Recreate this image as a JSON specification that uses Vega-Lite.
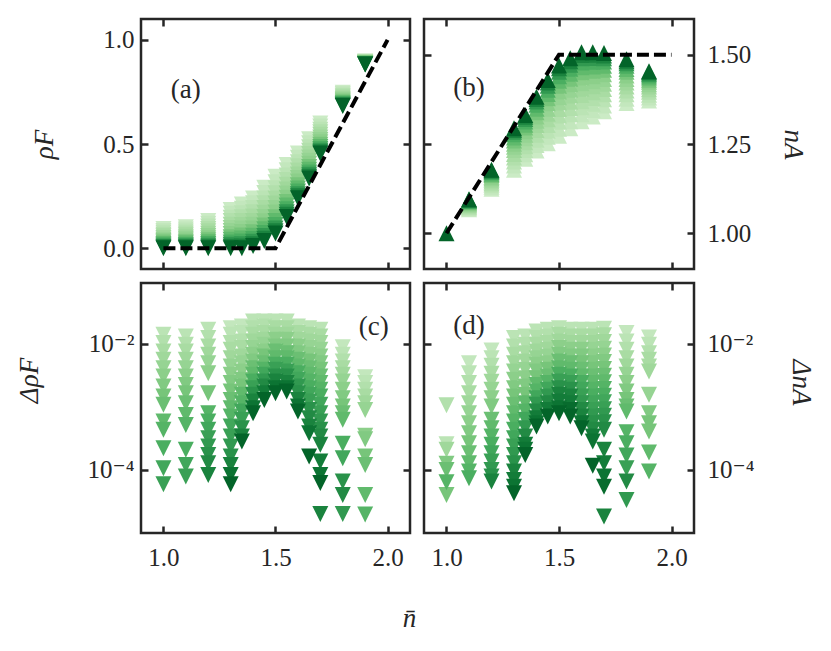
{
"$schema": "https://vega.github.io/schema/vega-lite/v6.json",
"background": "white",
"padding": {"left": 13, "top": 16, "right": 5, "bottom": 5},
"bounds": "flush",
"spacing": {"row": 14, "column": 14},
"columns": 2,
"config": {
  "font": "Liberation Serif, DejaVu Serif, serif",
  "view": {"stroke": "#262626", "strokeWidth": 2.5},
  "axis": {"grid": false, "domain": false, "ticks": true, "tickSize": -7, "tickWidth": 2.5, "tickColor": "#262626",
    "labelFont": "Liberation Serif, DejaVu Serif, serif", "labelFontSize": 25, "labelColor": "#262626", "labelPadding": 14, "labelFlush": false, "labelOverlap": false,
    "titleFont": "Liberation Serif, DejaVu Serif, serif", "titleFontSize": 27, "titleFontWeight": "normal", "titleFontStyle": "italic", "titleColor": "#262626"}
},
"datasets": {
"a": [
{"n":1,"v":0.092,"k":1},{"n":1,"v":0.083,"k":2},{"n":1,"v":0.074,"k":3},{"n":1,"v":0.065,"k":4},{"n":1,"v":0.057,"k":5},{"n":1,"v":0.049,"k":6},{"n":1,"v":0.041,"k":7},{"n":1,"v":0.034,"k":8},{"n":1,"v":0.027,"k":10},{"n":1,"v":0.02,"k":12},{"n":1,"v":0.014,"k":14},{"n":1,"v":0.008,"k":17},{"n":1,"v":0.004,"k":20},{"n":1,"v":0,"k":24},
{"n":1.1,"v":0.1,"k":1},{"n":1.1,"v":0.09,"k":2},{"n":1.1,"v":0.08,"k":3},{"n":1.1,"v":0.071,"k":4},{"n":1.1,"v":0.062,"k":5},{"n":1.1,"v":0.053,"k":6},{"n":1.1,"v":0.045,"k":7},{"n":1.1,"v":0.037,"k":8},{"n":1.1,"v":0.029,"k":10},{"n":1.1,"v":0.022,"k":12},{"n":1.1,"v":0.015,"k":14},{"n":1.1,"v":0.009,"k":17},{"n":1.1,"v":0.004,"k":20},{"n":1.1,"v":0,"k":24},
{"n":1.2,"v":0.13,"k":1},{"n":1.2,"v":0.117,"k":2},{"n":1.2,"v":0.104,"k":3},{"n":1.2,"v":0.092,"k":4},{"n":1.2,"v":0.081,"k":5},{"n":1.2,"v":0.069,"k":6},{"n":1.2,"v":0.059,"k":7},{"n":1.2,"v":0.048,"k":8},{"n":1.2,"v":0.038,"k":10},{"n":1.2,"v":0.029,"k":12},{"n":1.2,"v":0.02,"k":14},{"n":1.2,"v":0.012,"k":17},{"n":1.2,"v":0.005,"k":20},{"n":1.2,"v":0,"k":24},
{"n":1.3,"v":0.183,"k":1},{"n":1.3,"v":0.165,"k":2},{"n":1.3,"v":0.146,"k":3},{"n":1.3,"v":0.13,"k":4},{"n":1.3,"v":0.113,"k":5},{"n":1.3,"v":0.097,"k":6},{"n":1.3,"v":0.082,"k":7},{"n":1.3,"v":0.068,"k":8},{"n":1.3,"v":0.053,"k":10},{"n":1.3,"v":0.04,"k":12},{"n":1.3,"v":0.027,"k":14},{"n":1.3,"v":0.016,"k":17},{"n":1.3,"v":0.007,"k":20},{"n":1.3,"v":0,"k":24},
{"n":1.35,"v":0.21,"k":1},{"n":1.35,"v":0.189,"k":2},{"n":1.35,"v":0.168,"k":3},{"n":1.35,"v":0.149,"k":4},{"n":1.35,"v":0.13,"k":5},{"n":1.35,"v":0.111,"k":6},{"n":1.35,"v":0.095,"k":7},{"n":1.35,"v":0.078,"k":8},{"n":1.35,"v":0.061,"k":10},{"n":1.35,"v":0.046,"k":12},{"n":1.35,"v":0.032,"k":14},{"n":1.35,"v":0.019,"k":17},{"n":1.35,"v":0.008,"k":20},{"n":1.35,"v":0,"k":24},
{"n":1.4,"v":0.239,"k":1},{"n":1.4,"v":0.216,"k":2},{"n":1.4,"v":0.193,"k":3},{"n":1.4,"v":0.173,"k":4},{"n":1.4,"v":0.152,"k":5},{"n":1.4,"v":0.131,"k":6},{"n":1.4,"v":0.113,"k":7},{"n":1.4,"v":0.095,"k":8},{"n":1.4,"v":0.076,"k":10},{"n":1.4,"v":0.06,"k":12},{"n":1.4,"v":0.044,"k":14},{"n":1.4,"v":0.031,"k":17},{"n":1.4,"v":0.019,"k":20},{"n":1.4,"v":0.01,"k":24},
{"n":1.45,"v":0.29,"k":1},{"n":1.45,"v":0.265,"k":2},{"n":1.45,"v":0.239,"k":3},{"n":1.45,"v":0.216,"k":4},{"n":1.45,"v":0.193,"k":5},{"n":1.45,"v":0.17,"k":6},{"n":1.45,"v":0.15,"k":7},{"n":1.45,"v":0.129,"k":8},{"n":1.45,"v":0.109,"k":10},{"n":1.45,"v":0.091,"k":12},{"n":1.45,"v":0.073,"k":14},{"n":1.45,"v":0.058,"k":17},{"n":1.45,"v":0.045,"k":20},{"n":1.45,"v":0.035,"k":24},
{"n":1.5,"v":0.343,"k":1},{"n":1.5,"v":0.316,"k":2},{"n":1.5,"v":0.288,"k":3},{"n":1.5,"v":0.264,"k":4},{"n":1.5,"v":0.239,"k":5},{"n":1.5,"v":0.215,"k":6},{"n":1.5,"v":0.193,"k":7},{"n":1.5,"v":0.171,"k":8},{"n":1.5,"v":0.149,"k":10},{"n":1.5,"v":0.13,"k":12},{"n":1.5,"v":0.111,"k":14},{"n":1.5,"v":0.095,"k":17},{"n":1.5,"v":0.081,"k":20},{"n":1.5,"v":0.07,"k":24},
{"n":1.55,"v":0.399,"k":1},{"n":1.55,"v":0.374,"k":2},{"n":1.55,"v":0.349,"k":3},{"n":1.55,"v":0.327,"k":4},{"n":1.55,"v":0.304,"k":5},{"n":1.55,"v":0.282,"k":6},{"n":1.55,"v":0.262,"k":7},{"n":1.55,"v":0.242,"k":8},{"n":1.55,"v":0.222,"k":10},{"n":1.55,"v":0.205,"k":12},{"n":1.55,"v":0.187,"k":14},{"n":1.55,"v":0.172,"k":17},{"n":1.55,"v":0.16,"k":20},{"n":1.55,"v":0.15,"k":24},
{"n":1.6,"v":0.455,"k":1},{"n":1.6,"v":0.434,"k":2},{"n":1.6,"v":0.412,"k":3},{"n":1.6,"v":0.393,"k":4},{"n":1.6,"v":0.373,"k":5},{"n":1.6,"v":0.354,"k":6},{"n":1.6,"v":0.337,"k":7},{"n":1.6,"v":0.32,"k":8},{"n":1.6,"v":0.302,"k":10},{"n":1.6,"v":0.287,"k":12},{"n":1.6,"v":0.272,"k":14},{"n":1.6,"v":0.259,"k":17},{"n":1.6,"v":0.249,"k":20},{"n":1.6,"v":0.24,"k":24},
{"n":1.65,"v":0.523,"k":1},{"n":1.65,"v":0.504,"k":2},{"n":1.65,"v":0.485,"k":3},{"n":1.65,"v":0.468,"k":4},{"n":1.65,"v":0.452,"k":5},{"n":1.65,"v":0.435,"k":6},{"n":1.65,"v":0.42,"k":7},{"n":1.65,"v":0.405,"k":8},{"n":1.65,"v":0.39,"k":10},{"n":1.65,"v":0.376,"k":12},{"n":1.65,"v":0.363,"k":14},{"n":1.65,"v":0.352,"k":17},{"n":1.65,"v":0.343,"k":20},{"n":1.65,"v":0.335,"k":24},
{"n":1.7,"v":0.598,"k":1},{"n":1.7,"v":0.584,"k":2},{"n":1.7,"v":0.569,"k":3},{"n":1.7,"v":0.557,"k":4},{"n":1.7,"v":0.544,"k":5},{"n":1.7,"v":0.531,"k":6},{"n":1.7,"v":0.519,"k":7},{"n":1.7,"v":0.508,"k":8},{"n":1.7,"v":0.496,"k":10},{"n":1.7,"v":0.486,"k":12},{"n":1.7,"v":0.476,"k":14},{"n":1.7,"v":0.468,"k":17},{"n":1.7,"v":0.461,"k":20},{"n":1.7,"v":0.455,"k":24},
{"n":1.8,"v":0.746,"k":1},{"n":1.8,"v":0.74,"k":2},{"n":1.8,"v":0.733,"k":3},{"n":1.8,"v":0.728,"k":4},{"n":1.8,"v":0.722,"k":5},{"n":1.8,"v":0.716,"k":6},{"n":1.8,"v":0.711,"k":7},{"n":1.8,"v":0.706,"k":8},{"n":1.8,"v":0.701,"k":10},{"n":1.8,"v":0.697,"k":12},{"n":1.8,"v":0.692,"k":14},{"n":1.8,"v":0.689,"k":17},{"n":1.8,"v":0.686,"k":20},{"n":1.8,"v":0.683,"k":24},
{"n":1.9,"v":0.896,"k":1},{"n":1.9,"v":0.895,"k":2},{"n":1.9,"v":0.893,"k":3},{"n":1.9,"v":0.892,"k":4},{"n":1.9,"v":0.891,"k":5},{"n":1.9,"v":0.889,"k":6},{"n":1.9,"v":0.888,"k":7},{"n":1.9,"v":0.887,"k":8},{"n":1.9,"v":0.886,"k":10},{"n":1.9,"v":0.885,"k":12},{"n":1.9,"v":0.884,"k":14},{"n":1.9,"v":0.883,"k":17},{"n":1.9,"v":0.883,"k":20},{"n":1.9,"v":0.882,"k":24}
],
"b": [
{"n":1,"v":1.0,"k":24},
{"n":1.1,"v":1.067,"k":1},{"n":1.1,"v":1.07,"k":2},{"n":1.1,"v":1.073,"k":3},{"n":1.1,"v":1.075,"k":4},{"n":1.1,"v":1.078,"k":5},{"n":1.1,"v":1.08,"k":6},{"n":1.1,"v":1.082,"k":7},{"n":1.1,"v":1.085,"k":8},{"n":1.1,"v":1.087,"k":10},{"n":1.1,"v":1.089,"k":12},{"n":1.1,"v":1.091,"k":14},{"n":1.1,"v":1.092,"k":17},{"n":1.1,"v":1.094,"k":20},{"n":1.1,"v":1.095,"k":24},
{"n":1.2,"v":1.125,"k":1},{"n":1.2,"v":1.13,"k":2},{"n":1.2,"v":1.136,"k":3},{"n":1.2,"v":1.14,"k":4},{"n":1.2,"v":1.145,"k":5},{"n":1.2,"v":1.15,"k":6},{"n":1.2,"v":1.154,"k":7},{"n":1.2,"v":1.158,"k":8},{"n":1.2,"v":1.163,"k":10},{"n":1.2,"v":1.166,"k":12},{"n":1.2,"v":1.17,"k":14},{"n":1.2,"v":1.173,"k":17},{"n":1.2,"v":1.176,"k":20},{"n":1.2,"v":1.178,"k":24},
{"n":1.3,"v":1.178,"k":1},{"n":1.3,"v":1.19,"k":2},{"n":1.3,"v":1.201,"k":3},{"n":1.3,"v":1.212,"k":4},{"n":1.3,"v":1.222,"k":5},{"n":1.3,"v":1.233,"k":6},{"n":1.3,"v":1.242,"k":7},{"n":1.3,"v":1.251,"k":8},{"n":1.3,"v":1.26,"k":10},{"n":1.3,"v":1.268,"k":12},{"n":1.3,"v":1.277,"k":14},{"n":1.3,"v":1.284,"k":17},{"n":1.3,"v":1.289,"k":20},{"n":1.3,"v":1.294,"k":24},
{"n":1.35,"v":1.209,"k":1},{"n":1.35,"v":1.221,"k":2},{"n":1.35,"v":1.233,"k":3},{"n":1.35,"v":1.244,"k":4},{"n":1.35,"v":1.255,"k":5},{"n":1.35,"v":1.266,"k":6},{"n":1.35,"v":1.276,"k":7},{"n":1.35,"v":1.286,"k":8},{"n":1.35,"v":1.296,"k":10},{"n":1.35,"v":1.304,"k":12},{"n":1.35,"v":1.313,"k":14},{"n":1.35,"v":1.32,"k":17},{"n":1.35,"v":1.326,"k":20},{"n":1.35,"v":1.331,"k":24},
{"n":1.4,"v":1.232,"k":1},{"n":1.4,"v":1.247,"k":2},{"n":1.4,"v":1.262,"k":3},{"n":1.4,"v":1.276,"k":4},{"n":1.4,"v":1.289,"k":5},{"n":1.4,"v":1.303,"k":6},{"n":1.4,"v":1.315,"k":7},{"n":1.4,"v":1.327,"k":8},{"n":1.4,"v":1.339,"k":10},{"n":1.4,"v":1.349,"k":12},{"n":1.4,"v":1.36,"k":14},{"n":1.4,"v":1.369,"k":17},{"n":1.4,"v":1.376,"k":20},{"n":1.4,"v":1.382,"k":24},
{"n":1.45,"v":1.252,"k":1},{"n":1.45,"v":1.27,"k":2},{"n":1.45,"v":1.287,"k":3},{"n":1.45,"v":1.303,"k":4},{"n":1.45,"v":1.319,"k":5},{"n":1.45,"v":1.335,"k":6},{"n":1.45,"v":1.349,"k":7},{"n":1.45,"v":1.364,"k":8},{"n":1.45,"v":1.378,"k":10},{"n":1.45,"v":1.39,"k":12},{"n":1.45,"v":1.402,"k":14},{"n":1.45,"v":1.413,"k":17},{"n":1.45,"v":1.422,"k":20},{"n":1.45,"v":1.429,"k":24},
{"n":1.5,"v":1.273,"k":1},{"n":1.5,"v":1.293,"k":2},{"n":1.5,"v":1.312,"k":3},{"n":1.5,"v":1.33,"k":4},{"n":1.5,"v":1.348,"k":5},{"n":1.5,"v":1.366,"k":6},{"n":1.5,"v":1.381,"k":7},{"n":1.5,"v":1.397,"k":8},{"n":1.5,"v":1.413,"k":10},{"n":1.5,"v":1.427,"k":12},{"n":1.5,"v":1.44,"k":14},{"n":1.5,"v":1.452,"k":17},{"n":1.5,"v":1.462,"k":20},{"n":1.5,"v":1.47,"k":24},
{"n":1.55,"v":1.294,"k":1},{"n":1.55,"v":1.314,"k":2},{"n":1.55,"v":1.333,"k":3},{"n":1.55,"v":1.351,"k":4},{"n":1.55,"v":1.368,"k":5},{"n":1.55,"v":1.386,"k":6},{"n":1.55,"v":1.402,"k":7},{"n":1.55,"v":1.417,"k":8},{"n":1.55,"v":1.433,"k":10},{"n":1.55,"v":1.447,"k":12},{"n":1.55,"v":1.461,"k":14},{"n":1.55,"v":1.472,"k":17},{"n":1.55,"v":1.482,"k":20},{"n":1.55,"v":1.49,"k":24},
{"n":1.6,"v":1.314,"k":1},{"n":1.6,"v":1.333,"k":2},{"n":1.6,"v":1.353,"k":3},{"n":1.6,"v":1.37,"k":4},{"n":1.6,"v":1.387,"k":5},{"n":1.6,"v":1.405,"k":6},{"n":1.6,"v":1.42,"k":7},{"n":1.6,"v":1.436,"k":8},{"n":1.6,"v":1.451,"k":10},{"n":1.6,"v":1.465,"k":12},{"n":1.6,"v":1.478,"k":14},{"n":1.6,"v":1.49,"k":17},{"n":1.6,"v":1.499,"k":20},{"n":1.6,"v":1.507,"k":24},
{"n":1.65,"v":1.327,"k":1},{"n":1.65,"v":1.345,"k":2},{"n":1.65,"v":1.363,"k":3},{"n":1.65,"v":1.379,"k":4},{"n":1.65,"v":1.395,"k":5},{"n":1.65,"v":1.412,"k":6},{"n":1.65,"v":1.426,"k":7},{"n":1.65,"v":1.44,"k":8},{"n":1.65,"v":1.455,"k":10},{"n":1.65,"v":1.467,"k":12},{"n":1.65,"v":1.48,"k":14},{"n":1.65,"v":1.491,"k":17},{"n":1.65,"v":1.5,"k":20},{"n":1.65,"v":1.507,"k":24},
{"n":1.7,"v":1.342,"k":1},{"n":1.7,"v":1.358,"k":2},{"n":1.7,"v":1.375,"k":3},{"n":1.7,"v":1.389,"k":4},{"n":1.7,"v":1.404,"k":5},{"n":1.7,"v":1.419,"k":6},{"n":1.7,"v":1.432,"k":7},{"n":1.7,"v":1.445,"k":8},{"n":1.7,"v":1.458,"k":10},{"n":1.7,"v":1.469,"k":12},{"n":1.7,"v":1.481,"k":14},{"n":1.7,"v":1.49,"k":17},{"n":1.7,"v":1.498,"k":20},{"n":1.7,"v":1.505,"k":24},
{"n":1.8,"v":1.365,"k":1},{"n":1.8,"v":1.377,"k":2},{"n":1.8,"v":1.389,"k":3},{"n":1.8,"v":1.4,"k":4},{"n":1.8,"v":1.411,"k":5},{"n":1.8,"v":1.422,"k":6},{"n":1.8,"v":1.432,"k":7},{"n":1.8,"v":1.442,"k":8},{"n":1.8,"v":1.452,"k":10},{"n":1.8,"v":1.46,"k":12},{"n":1.8,"v":1.469,"k":14},{"n":1.8,"v":1.476,"k":17},{"n":1.8,"v":1.482,"k":20},{"n":1.8,"v":1.487,"k":24},
{"n":1.9,"v":1.372,"k":1},{"n":1.9,"v":1.38,"k":2},{"n":1.9,"v":1.388,"k":3},{"n":1.9,"v":1.396,"k":4},{"n":1.9,"v":1.403,"k":5},{"n":1.9,"v":1.411,"k":6},{"n":1.9,"v":1.417,"k":7},{"n":1.9,"v":1.424,"k":8},{"n":1.9,"v":1.43,"k":10},{"n":1.9,"v":1.436,"k":12},{"n":1.9,"v":1.442,"k":14},{"n":1.9,"v":1.447,"k":17},{"n":1.9,"v":1.451,"k":20},{"n":1.9,"v":1.454,"k":24}
],
"c": [
{"n":1,"v":0.0139,"k":3},{"n":1,"v":0.0103,"k":4},{"n":1,"v":0.00755,"k":5},{"n":1,"v":0.00557,"k":6},{"n":1,"v":0.00411,"k":7},{"n":1,"v":0.00303,"k":8},{"n":1,"v":0.0021,"k":9},{"n":1,"v":0.00146,"k":10},{"n":1,"v":0.00108,"k":11},{"n":1,"v":0.000585,"k":12},{"n":1,"v":0.000432,"k":13},{"n":1,"v":0.000221,"k":14},{"n":1,"v":0.000106,"k":15},{"n":1,"v":0.0000592,"k":16},
{"n":1.1,"v":0.0131,"k":3},{"n":1.1,"v":0.00964,"k":4},{"n":1.1,"v":0.00755,"k":5},{"n":1.1,"v":0.00557,"k":6},{"n":1.1,"v":0.00411,"k":7},{"n":1.1,"v":0.00303,"k":8},{"n":1.1,"v":0.00223,"k":9},{"n":1.1,"v":0.00165,"k":10},{"n":1.1,"v":0.00114,"k":11},{"n":1.1,"v":0.000746,"k":12},{"n":1.1,"v":0.000518,"k":13},{"n":1.1,"v":0.000208,"k":14},{"n":1.1,"v":0.00012,"k":15},{"n":1.1,"v":0.0000784,"k":16},
{"n":1.2,"v":0.0167,"k":3},{"n":1.2,"v":0.0123,"k":4},{"n":1.2,"v":0.00908,"k":5},{"n":1.2,"v":0.00668,"k":6},{"n":1.2,"v":0.00493,"k":7},{"n":1.2,"v":0.00342,"k":8},{"n":1.2,"v":0.00165,"k":10},{"n":1.2,"v":0.000793,"k":13},{"n":1.2,"v":0.000585,"k":14},{"n":1.2,"v":0.000432,"k":15},{"n":1.2,"v":0.000318,"k":16},{"n":1.2,"v":0.000235,"k":17},{"n":1.2,"v":0.000173,"k":18},{"n":1.2,"v":0.000128,"k":19},{"n":1.2,"v":0.0000834,"k":20},
{"n":1.3,"v":0.0177,"k":2},{"n":1.3,"v":0.0139,"k":3},{"n":1.3,"v":0.0103,"k":4},{"n":1.3,"v":0.00803,"k":5},{"n":1.3,"v":0.00592,"k":6},{"n":1.3,"v":0.00437,"k":7},{"n":1.3,"v":0.00322,"k":8},{"n":1.3,"v":0.00238,"k":9},{"n":1.3,"v":0.00175,"k":10},{"n":1.3,"v":0.00129,"k":11},{"n":1.3,"v":0.000952,"k":12},{"n":1.3,"v":0.000703,"k":13},{"n":1.3,"v":0.000488,"k":15},{"n":1.3,"v":0.000338,"k":16},{"n":1.3,"v":0.000235,"k":17},{"n":1.3,"v":0.000163,"k":18},{"n":1.3,"v":0.00012,"k":20},{"n":1.3,"v":0.0000834,"k":22},{"n":1.3,"v":0.0000592,"k":24},
{"n":1.35,"v":0.0188,"k":2},{"n":1.35,"v":0.0148,"k":3},{"n":1.35,"v":0.0109,"k":4},{"n":1.35,"v":0.00854,"k":5},{"n":1.35,"v":0.00629,"k":6},{"n":1.35,"v":0.00493,"k":7},{"n":1.35,"v":0.00364,"k":8},{"n":1.35,"v":0.00268,"k":9},{"n":1.35,"v":0.0021,"k":10},{"n":1.35,"v":0.00155,"k":12},{"n":1.35,"v":0.00114,"k":13},{"n":1.35,"v":0.000843,"k":15},{"n":1.35,"v":0.000622,"k":16},{"n":1.35,"v":0.000459,"k":18},{"n":1.35,"v":0.000338,"k":20},{"n":1.35,"v":0.000282,"k":24},
{"n":1.4,"v":0.0226,"k":3},{"n":1.4,"v":0.0177,"k":4},{"n":1.4,"v":0.0139,"k":5},{"n":1.4,"v":0.0109,"k":6},{"n":1.4,"v":0.00854,"k":7},{"n":1.4,"v":0.00668,"k":8},{"n":1.4,"v":0.00525,"k":9},{"n":1.4,"v":0.00411,"k":11},{"n":1.4,"v":0.00322,"k":12},{"n":1.4,"v":0.00252,"k":14},{"n":1.4,"v":0.00198,"k":16},{"n":1.4,"v":0.00155,"k":18},{"n":1.4,"v":0.00122,"k":20},{"n":1.4,"v":0.000952,"k":22},{"n":1.4,"v":0.000793,"k":24},
{"n":1.45,"v":0.0226,"k":3},{"n":1.45,"v":0.0188,"k":4},{"n":1.45,"v":0.0148,"k":5},{"n":1.45,"v":0.0116,"k":6},{"n":1.45,"v":0.00964,"k":7},{"n":1.45,"v":0.00755,"k":8},{"n":1.45,"v":0.00629,"k":10},{"n":1.45,"v":0.00493,"k":11},{"n":1.45,"v":0.00387,"k":13},{"n":1.45,"v":0.00322,"k":15},{"n":1.45,"v":0.00252,"k":17},{"n":1.45,"v":0.0021,"k":19},{"n":1.45,"v":0.00165,"k":21},{"n":1.45,"v":0.00129,"k":24},
{"n":1.5,"v":0.0226,"k":3},{"n":1.5,"v":0.0177,"k":5},{"n":1.5,"v":0.0139,"k":6},{"n":1.5,"v":0.0116,"k":8},{"n":1.5,"v":0.00908,"k":9},{"n":1.5,"v":0.00755,"k":11},{"n":1.5,"v":0.00592,"k":12},{"n":1.5,"v":0.00464,"k":14},{"n":1.5,"v":0.00387,"k":16},{"n":1.5,"v":0.00303,"k":18},{"n":1.5,"v":0.00252,"k":20},{"n":1.5,"v":0.00198,"k":22},{"n":1.5,"v":0.00165,"k":24},
{"n":1.55,"v":0.0226,"k":3},{"n":1.55,"v":0.0177,"k":5},{"n":1.55,"v":0.0139,"k":6},{"n":1.55,"v":0.0116,"k":8},{"n":1.55,"v":0.00908,"k":9},{"n":1.55,"v":0.00711,"k":11},{"n":1.55,"v":0.00592,"k":12},{"n":1.55,"v":0.00464,"k":14},{"n":1.55,"v":0.00364,"k":16},{"n":1.55,"v":0.00303,"k":18},{"n":1.55,"v":0.00238,"k":20},{"n":1.55,"v":0.00198,"k":22},{"n":1.55,"v":0.00175,"k":24},
{"n":1.6,"v":0.0188,"k":3},{"n":1.6,"v":0.0148,"k":5},{"n":1.6,"v":0.0116,"k":6},{"n":1.6,"v":0.00908,"k":8},{"n":1.6,"v":0.00711,"k":9},{"n":1.6,"v":0.00557,"k":11},{"n":1.6,"v":0.00437,"k":12},{"n":1.6,"v":0.00342,"k":14},{"n":1.6,"v":0.00268,"k":15},{"n":1.6,"v":0.0021,"k":17},{"n":1.6,"v":0.00165,"k":18},{"n":1.6,"v":0.00129,"k":20},{"n":1.6,"v":0.00101,"k":22},{"n":1.6,"v":0.000843,"k":24},
{"n":1.65,"v":0.0177,"k":3},{"n":1.65,"v":0.0139,"k":5},{"n":1.65,"v":0.0109,"k":6},{"n":1.65,"v":0.00854,"k":7},{"n":1.65,"v":0.00668,"k":8},{"n":1.65,"v":0.00525,"k":10},{"n":1.65,"v":0.00411,"k":11},{"n":1.65,"v":0.00322,"k":12},{"n":1.65,"v":0.00252,"k":13},{"n":1.65,"v":0.00198,"k":14},{"n":1.65,"v":0.00155,"k":15},{"n":1.65,"v":0.00122,"k":16},{"n":1.65,"v":0.000895,"k":18},{"n":1.65,"v":0.000661,"k":19},{"n":1.65,"v":0.000488,"k":20},{"n":1.65,"v":0.000382,"k":22},{"n":1.65,"v":0.000163,"k":24},
{"n":1.7,"v":0.0167,"k":3},{"n":1.7,"v":0.0131,"k":5},{"n":1.7,"v":0.0103,"k":6},{"n":1.7,"v":0.00803,"k":7},{"n":1.7,"v":0.00629,"k":8},{"n":1.7,"v":0.00493,"k":9},{"n":1.7,"v":0.00387,"k":10},{"n":1.7,"v":0.00303,"k":11},{"n":1.7,"v":0.00238,"k":12},{"n":1.7,"v":0.00186,"k":13},{"n":1.7,"v":0.00146,"k":14},{"n":1.7,"v":0.00108,"k":15},{"n":1.7,"v":0.000793,"k":16},{"n":1.7,"v":0.000585,"k":17},{"n":1.7,"v":0.000432,"k":18},{"n":1.7,"v":0.000338,"k":19},{"n":1.7,"v":0.00025,"k":20},{"n":1.7,"v":0.000136,"k":21},{"n":1.7,"v":0.0000834,"k":22},{"n":1.7,"v":0.000062,"k":24},{"n":1.7,"v":0.00002,"k":20},
{"n":1.8,"v":0.0088,"k":2},{"n":1.8,"v":0.00668,"k":3},{"n":1.8,"v":0.00525,"k":4},{"n":1.8,"v":0.00411,"k":5},{"n":1.8,"v":0.00322,"k":6},{"n":1.8,"v":0.00252,"k":7},{"n":1.8,"v":0.00186,"k":8},{"n":1.8,"v":0.00137,"k":9},{"n":1.8,"v":0.00101,"k":10},{"n":1.8,"v":0.000793,"k":11},{"n":1.8,"v":0.000622,"k":12},{"n":1.8,"v":0.000259,"k":14},{"n":1.8,"v":0.000153,"k":15},{"n":1.8,"v":0.0000653,"k":18},{"n":1.8,"v":0.0000401,"k":19},{"n":1.8,"v":0.00002,"k":17},
{"n":1.9,"v":0.00296,"k":2},{"n":1.9,"v":0.00238,"k":3},{"n":1.9,"v":0.00186,"k":4},{"n":1.9,"v":0.00146,"k":5},{"n":1.9,"v":0.00114,"k":6},{"n":1.9,"v":0.000895,"k":7},{"n":1.9,"v":0.000347,"k":8},{"n":1.9,"v":0.000307,"k":9},{"n":1.9,"v":0.000163,"k":10},{"n":1.9,"v":0.00012,"k":11},{"n":1.9,"v":0.0000401,"k":12},{"n":1.9,"v":0.0000197,"k":13}
],
"d": [
{"n":1,"v":0.00106,"k":4},{"n":1,"v":0.000256,"k":3},{"n":1,"v":0.000208,"k":6},{"n":1,"v":0.000125,"k":9},{"n":1,"v":0.0001,"k":11},{"n":1,"v":0.0000635,"k":13},{"n":1,"v":0.0000401,"k":10},
{"n":1.1,"v":0.00493,"k":2},{"n":1.1,"v":0.00342,"k":3},{"n":1.1,"v":0.00238,"k":4},{"n":1.1,"v":0.00165,"k":5},{"n":1.1,"v":0.00114,"k":6},{"n":1.1,"v":0.000793,"k":7},{"n":1.1,"v":0.000551,"k":8},{"n":1.1,"v":0.000382,"k":9},{"n":1.1,"v":0.000265,"k":10},{"n":1.1,"v":0.000184,"k":11},{"n":1.1,"v":0.000128,"k":12},{"n":1.1,"v":0.0000941,"k":13},{"n":1.1,"v":0.0000738,"k":14},
{"n":1.2,"v":0.00784,"k":2},{"n":1.2,"v":0.00592,"k":3},{"n":1.2,"v":0.00448,"k":4},{"n":1.2,"v":0.00334,"k":5},{"n":1.2,"v":0.00249,"k":6},{"n":1.2,"v":0.00186,"k":7},{"n":1.2,"v":0.00137,"k":8},{"n":1.2,"v":0.00101,"k":9},{"n":1.2,"v":0.000622,"k":11},{"n":1.2,"v":0.000459,"k":12},{"n":1.2,"v":0.000338,"k":13},{"n":1.2,"v":0.00025,"k":14},{"n":1.2,"v":0.000184,"k":15},{"n":1.2,"v":0.000136,"k":16},{"n":1.2,"v":0.0001,"k":17},{"n":1.2,"v":0.0000784,"k":18},{"n":1.2,"v":0.0000653,"k":20},
{"n":1.3,"v":0.0123,"k":3},{"n":1.3,"v":0.00908,"k":4},{"n":1.3,"v":0.00668,"k":5},{"n":1.3,"v":0.00493,"k":6},{"n":1.3,"v":0.00364,"k":7},{"n":1.3,"v":0.00268,"k":8},{"n":1.3,"v":0.00198,"k":9},{"n":1.3,"v":0.00146,"k":10},{"n":1.3,"v":0.00108,"k":11},{"n":1.3,"v":0.000793,"k":12},{"n":1.3,"v":0.000585,"k":13},{"n":1.3,"v":0.000432,"k":14},{"n":1.3,"v":0.000318,"k":15},{"n":1.3,"v":0.000235,"k":16},{"n":1.3,"v":0.000173,"k":17},{"n":1.3,"v":0.000128,"k":18},{"n":1.3,"v":0.0000941,"k":20},{"n":1.3,"v":0.0000694,"k":21},{"n":1.3,"v":0.0000543,"k":22},{"n":1.3,"v":0.0000427,"k":24},
{"n":1.35,"v":0.0131,"k":3},{"n":1.35,"v":0.00964,"k":4},{"n":1.35,"v":0.00711,"k":5},{"n":1.35,"v":0.00525,"k":6},{"n":1.35,"v":0.00387,"k":7},{"n":1.35,"v":0.00285,"k":8},{"n":1.35,"v":0.0021,"k":9},{"n":1.35,"v":0.00155,"k":10},{"n":1.35,"v":0.00114,"k":12},{"n":1.35,"v":0.000843,"k":13},{"n":1.35,"v":0.000622,"k":15},{"n":1.35,"v":0.000459,"k":17},{"n":1.35,"v":0.000338,"k":19},{"n":1.35,"v":0.00025,"k":21},{"n":1.35,"v":0.000208,"k":22},{"n":1.35,"v":0.000173,"k":24},
{"n":1.4,"v":0.0157,"k":3},{"n":1.4,"v":0.0123,"k":4},{"n":1.4,"v":0.00964,"k":5},{"n":1.4,"v":0.00755,"k":6},{"n":1.4,"v":0.00592,"k":7},{"n":1.4,"v":0.00464,"k":8},{"n":1.4,"v":0.00364,"k":9},{"n":1.4,"v":0.00285,"k":10},{"n":1.4,"v":0.00223,"k":12},{"n":1.4,"v":0.00175,"k":13},{"n":1.4,"v":0.00137,"k":15},{"n":1.4,"v":0.00108,"k":17},{"n":1.4,"v":0.000843,"k":19},{"n":1.4,"v":0.000661,"k":21},{"n":1.4,"v":0.000551,"k":22},{"n":1.4,"v":0.000488,"k":24},
{"n":1.45,"v":0.0167,"k":3},{"n":1.45,"v":0.0131,"k":4},{"n":1.45,"v":0.0103,"k":5},{"n":1.45,"v":0.00803,"k":6},{"n":1.45,"v":0.00629,"k":7},{"n":1.45,"v":0.00493,"k":8},{"n":1.45,"v":0.00387,"k":10},{"n":1.45,"v":0.00303,"k":11},{"n":1.45,"v":0.00238,"k":13},{"n":1.45,"v":0.00186,"k":15},{"n":1.45,"v":0.00146,"k":17},{"n":1.45,"v":0.00114,"k":19},{"n":1.45,"v":0.000895,"k":21},{"n":1.45,"v":0.000703,"k":24},
{"n":1.5,"v":0.0177,"k":3},{"n":1.5,"v":0.0139,"k":5},{"n":1.5,"v":0.0109,"k":6},{"n":1.5,"v":0.00854,"k":8},{"n":1.5,"v":0.00668,"k":9},{"n":1.5,"v":0.00525,"k":11},{"n":1.5,"v":0.00411,"k":12},{"n":1.5,"v":0.00322,"k":14},{"n":1.5,"v":0.00252,"k":16},{"n":1.5,"v":0.00198,"k":18},{"n":1.5,"v":0.00155,"k":20},{"n":1.5,"v":0.00122,"k":21},{"n":1.5,"v":0.000952,"k":22},{"n":1.5,"v":0.000793,"k":24},
{"n":1.55,"v":0.0167,"k":3},{"n":1.55,"v":0.0131,"k":5},{"n":1.55,"v":0.0103,"k":6},{"n":1.55,"v":0.00803,"k":8},{"n":1.55,"v":0.00629,"k":9},{"n":1.55,"v":0.00493,"k":11},{"n":1.55,"v":0.00387,"k":12},{"n":1.55,"v":0.00303,"k":14},{"n":1.55,"v":0.00238,"k":16},{"n":1.55,"v":0.00186,"k":18},{"n":1.55,"v":0.00146,"k":20},{"n":1.55,"v":0.00114,"k":21},{"n":1.55,"v":0.000895,"k":23},{"n":1.55,"v":0.000703,"k":24},
{"n":1.6,"v":0.0167,"k":3},{"n":1.6,"v":0.0131,"k":5},{"n":1.6,"v":0.0103,"k":6},{"n":1.6,"v":0.00803,"k":8},{"n":1.6,"v":0.00629,"k":9},{"n":1.6,"v":0.00493,"k":10},{"n":1.6,"v":0.00387,"k":11},{"n":1.6,"v":0.00303,"k":12},{"n":1.6,"v":0.00238,"k":14},{"n":1.6,"v":0.00186,"k":15},{"n":1.6,"v":0.00146,"k":16},{"n":1.6,"v":0.00114,"k":17},{"n":1.6,"v":0.000895,"k":19},{"n":1.6,"v":0.000703,"k":20},{"n":1.6,"v":0.000551,"k":22},{"n":1.6,"v":0.000459,"k":24},
{"n":1.65,"v":0.0167,"k":3},{"n":1.65,"v":0.0131,"k":5},{"n":1.65,"v":0.0103,"k":6},{"n":1.65,"v":0.00803,"k":7},{"n":1.65,"v":0.00629,"k":8},{"n":1.65,"v":0.00493,"k":9},{"n":1.65,"v":0.00387,"k":10},{"n":1.65,"v":0.00303,"k":11},{"n":1.65,"v":0.00238,"k":12},{"n":1.65,"v":0.00186,"k":13},{"n":1.65,"v":0.00146,"k":14},{"n":1.65,"v":0.00114,"k":15},{"n":1.65,"v":0.000895,"k":16},{"n":1.65,"v":0.000703,"k":17},{"n":1.65,"v":0.000551,"k":18},{"n":1.65,"v":0.000432,"k":19},{"n":1.65,"v":0.000338,"k":21},{"n":1.65,"v":0.000282,"k":22},{"n":1.65,"v":0.000117,"k":24},
{"n":1.7,"v":0.0173,"k":3},{"n":1.7,"v":0.0136,"k":5},{"n":1.7,"v":0.0107,"k":6},{"n":1.7,"v":0.00835,"k":7},{"n":1.7,"v":0.00652,"k":8},{"n":1.7,"v":0.00512,"k":9},{"n":1.7,"v":0.004,"k":10},{"n":1.7,"v":0.00312,"k":11},{"n":1.7,"v":0.00245,"k":12},{"n":1.7,"v":0.00192,"k":13},{"n":1.7,"v":0.0015,"k":14},{"n":1.7,"v":0.00118,"k":15},{"n":1.7,"v":0.00092,"k":16},{"n":1.7,"v":0.00072,"k":17},{"n":1.7,"v":0.00057,"k":18},{"n":1.7,"v":0.000432,"k":19},{"n":1.7,"v":0.000208,"k":20},{"n":1.7,"v":0.000128,"k":21},{"n":1.7,"v":0.0000784,"k":22},{"n":1.7,"v":0.0000543,"k":23},{"n":1.7,"v":0.0000182,"k":20},
{"n":1.8,"v":0.0148,"k":2},{"n":1.8,"v":0.0109,"k":3},{"n":1.8,"v":0.00803,"k":4},{"n":1.8,"v":0.00592,"k":5},{"n":1.8,"v":0.00437,"k":6},{"n":1.8,"v":0.00322,"k":7},{"n":1.8,"v":0.00238,"k":8},{"n":1.8,"v":0.00175,"k":9},{"n":1.8,"v":0.00129,"k":10},{"n":1.8,"v":0.00101,"k":11},{"n":1.8,"v":0.000843,"k":12},{"n":1.8,"v":0.000395,"k":13},{"n":1.8,"v":0.000265,"k":14},{"n":1.8,"v":0.000169,"k":15},{"n":1.8,"v":0.000106,"k":16},{"n":1.8,"v":0.0000653,"k":19},{"n":1.8,"v":0.0000334,"k":17},
{"n":1.9,"v":0.0126,"k":2},{"n":1.9,"v":0.00964,"k":3},{"n":1.9,"v":0.00711,"k":4},{"n":1.9,"v":0.00557,"k":5},{"n":1.9,"v":0.00437,"k":5},{"n":1.9,"v":0.00364,"k":6},{"n":1.9,"v":0.00155,"k":7},{"n":1.9,"v":0.000793,"k":9},{"n":1.9,"v":0.000551,"k":10},{"n":1.9,"v":0.000406,"k":10},{"n":1.9,"v":0.000189,"k":12},{"n":1.9,"v":0.0000941,"k":13}
]
},
"concat": [
{
 "width": 269, "height": 250,
 "layer": [
  {"data": {"name": "a"},
   "mark": {"type": "point", "shape": "M-1,-1L1,-1L0,1Z", "filled": true, "size": 256, "opacity": 1, "strokeWidth": 0},
   "encoding": {
     "x": {"field": "n", "type": "quantitative", "scale": {"domain": [0.9, 2.1], "nice": false, "zero": false}, "axis": {"orient": "bottom", "values": [1, 1.5, 2], "labels": false, "title": null}},
     "y": {"field": "v", "type": "quantitative", "scale": {"domain": [-0.1, 1.1], "nice": false, "zero": false}, "axis": {"orient": "left", "values": [0, 0.5, 1], "format": ".1f", "title": "ρF", "titleX": -97, "titleY": 125, "titleAngle": -90, "titleAlign": "center", "titleBaseline": "middle"}},
     "color": {"field": "k", "type": "quantitative", "scale": {"domain": [0, 24], "scheme": "greens"}, "legend": null},
     "order": {"field": "k", "type": "quantitative"}
   }},
  {"data": {"values": [{"n": 1, "v": 0}, {"n": 1.5, "v": 0}, {"n": 2, "v": 1}]},
   "mark": {"type": "line", "color": "black", "strokeWidth": 4, "strokeDash": [12, 5]},
   "encoding": {"x": {"field": "n", "type": "quantitative", "axis": null}, "y": {"field": "v", "type": "quantitative", "axis": null}}},
  {"data": {"values": [{"label": "(a)", "n": 1.1, "v": 0.76}]},
   "mark": {"type": "text", "fontSize": 27, "font": "Liberation Serif, DejaVu Serif, serif", "color": "#262626"},
   "encoding": {
     "x": {"field": "n", "type": "quantitative", "axis": {"orient": "top", "values": [1, 1.5, 2], "labels": false, "title": null}},
     "y": {"field": "v", "type": "quantitative", "axis": {"orient": "right", "values": [0, 0.5, 1], "labels": false, "title": null}},
     "text": {"field": "label"}}}
 ],
 "resolve": {"axis": {"x": "independent", "y": "independent"}}
},
{
 "width": 270, "height": 250,
 "layer": [
  {"data": {"name": "b"},
   "mark": {"type": "point", "shape": "M0,-1L1,1L-1,1Z", "filled": true, "size": 256, "opacity": 1, "strokeWidth": 0},
   "encoding": {
     "x": {"field": "n", "type": "quantitative", "scale": {"domain": [0.9, 2.1], "nice": false, "zero": false}, "axis": {"orient": "bottom", "values": [1, 1.5, 2], "labels": false, "title": null}},
     "y": {"field": "v", "type": "quantitative", "scale": {"domain": [0.9, 1.6], "nice": false, "zero": false}, "axis": {"orient": "right", "values": [1, 1.25, 1.5], "format": ".2f", "labelPadding": 20, "title": "nA", "titleX": 98, "titleY": 125, "titleAngle": 90, "titleAlign": "center", "titleBaseline": "middle"}},
     "color": {"field": "k", "type": "quantitative", "scale": {"domain": [0, 24], "scheme": "greens"}, "legend": null},
     "order": {"field": "k", "type": "quantitative"}
   }},
  {"data": {"values": [{"n": 1, "v": 1}, {"n": 1.5, "v": 1.5}, {"n": 2, "v": 1.5}]},
   "mark": {"type": "line", "color": "black", "strokeWidth": 4, "strokeDash": [12, 5]},
   "encoding": {"x": {"field": "n", "type": "quantitative", "axis": null}, "y": {"field": "v", "type": "quantitative", "axis": null}}},
  {"data": {"values": [{"label": "(b)", "n": 1.1, "v": 1.406}]},
   "mark": {"type": "text", "fontSize": 27, "font": "Liberation Serif, DejaVu Serif, serif", "color": "#262626"},
   "encoding": {
     "x": {"field": "n", "type": "quantitative", "axis": {"orient": "top", "values": [1, 1.5, 2], "labels": false, "title": null}},
     "y": {"field": "v", "type": "quantitative", "axis": {"orient": "left", "values": [1, 1.25, 1.5], "labels": false, "title": null}},
     "text": {"field": "label"}}}
 ],
 "resolve": {"axis": {"x": "independent", "y": "independent"}}
},
{
 "width": 269, "height": 250,
 "layer": [
  {"data": {"name": "c"},
   "mark": {"type": "point", "shape": "M-1,-1L1,-1L0,1Z", "filled": true, "size": 256, "opacity": 1, "strokeWidth": 0},
   "encoding": {
     "x": {"field": "n", "type": "quantitative", "scale": {"domain": [0.9, 2.1], "nice": false, "zero": false}, "axis": {"orient": "bottom", "values": [1, 1.5, 2], "format": ".1f", "labelPadding": 19, "title": "n̄", "titleX": 268, "titleY": 85, "titleAngle": 0, "titleAlign": "center", "titleBaseline": "middle"}},
     "y": {"field": "v", "type": "quantitative", "scale": {"type": "log", "domain": [0.00001, 0.092], "nice": false}, "axis": {"orient": "left", "values": [0.0001, 0.01], "labelExpr": "datum.value < 0.001 ? '10⁻⁴' : '10⁻²'", "title": "ΔρF", "titleX": -112, "titleY": 97, "titleAngle": -90, "titleAlign": "center", "titleBaseline": "middle"}},
     "color": {"field": "k", "type": "quantitative", "scale": {"domain": [0, 24], "scheme": "greens"}, "legend": null},
     "order": {"field": "k", "type": "quantitative"}
   }},
  {"data": {"values": [{"label": "(c)", "n": 1.938, "v": 0.0186}]},
   "mark": {"type": "text", "fontSize": 27, "font": "Liberation Serif, DejaVu Serif, serif", "color": "#262626"},
   "encoding": {
     "x": {"field": "n", "type": "quantitative", "axis": {"orient": "top", "values": [1, 1.5, 2], "labels": false, "title": null}},
     "y": {"field": "v", "type": "quantitative", "axis": {"orient": "right", "values": [0.0001, 0.01], "labels": false, "title": null}},
     "text": {"field": "label"}}}
 ],
 "resolve": {"axis": {"x": "independent", "y": "independent"}}
},
{
 "width": 270, "height": 250,
 "layer": [
  {"data": {"name": "d"},
   "mark": {"type": "point", "shape": "M-1,-1L1,-1L0,1Z", "filled": true, "size": 256, "opacity": 1, "strokeWidth": 0},
   "encoding": {
     "x": {"field": "n", "type": "quantitative", "scale": {"domain": [0.9, 2.1], "nice": false, "zero": false}, "axis": {"orient": "bottom", "values": [1, 1.5, 2], "format": ".1f", "labelPadding": 19, "title": null}},
     "y": {"field": "v", "type": "quantitative", "scale": {"type": "log", "domain": [0.00001, 0.092], "nice": false}, "axis": {"orient": "right", "values": [0.0001, 0.01], "labelPadding": 20, "labelExpr": "datum.value < 0.001 ? '10⁻⁴' : '10⁻²'", "title": "ΔnA", "titleX": 106, "titleY": 99, "titleAngle": 90, "titleAlign": "center", "titleBaseline": "middle"}},
     "color": {"field": "k", "type": "quantitative", "scale": {"domain": [0, 24], "scheme": "greens"}, "legend": null},
     "order": {"field": "k", "type": "quantitative"}
   }},
  {"data": {"values": [{"label": "(d)", "n": 1.1, "v": 0.0193}]},
   "mark": {"type": "text", "fontSize": 27, "font": "Liberation Serif, DejaVu Serif, serif", "color": "#262626"},
   "encoding": {
     "x": {"field": "n", "type": "quantitative", "axis": {"orient": "top", "values": [1, 1.5, 2], "labels": false, "title": null}},
     "y": {"field": "v", "type": "quantitative", "axis": {"orient": "left", "values": [0.0001, 0.01], "labels": false, "title": null}},
     "text": {"field": "label"}}}
 ],
 "resolve": {"axis": {"x": "independent", "y": "independent"}}
}
]
}
